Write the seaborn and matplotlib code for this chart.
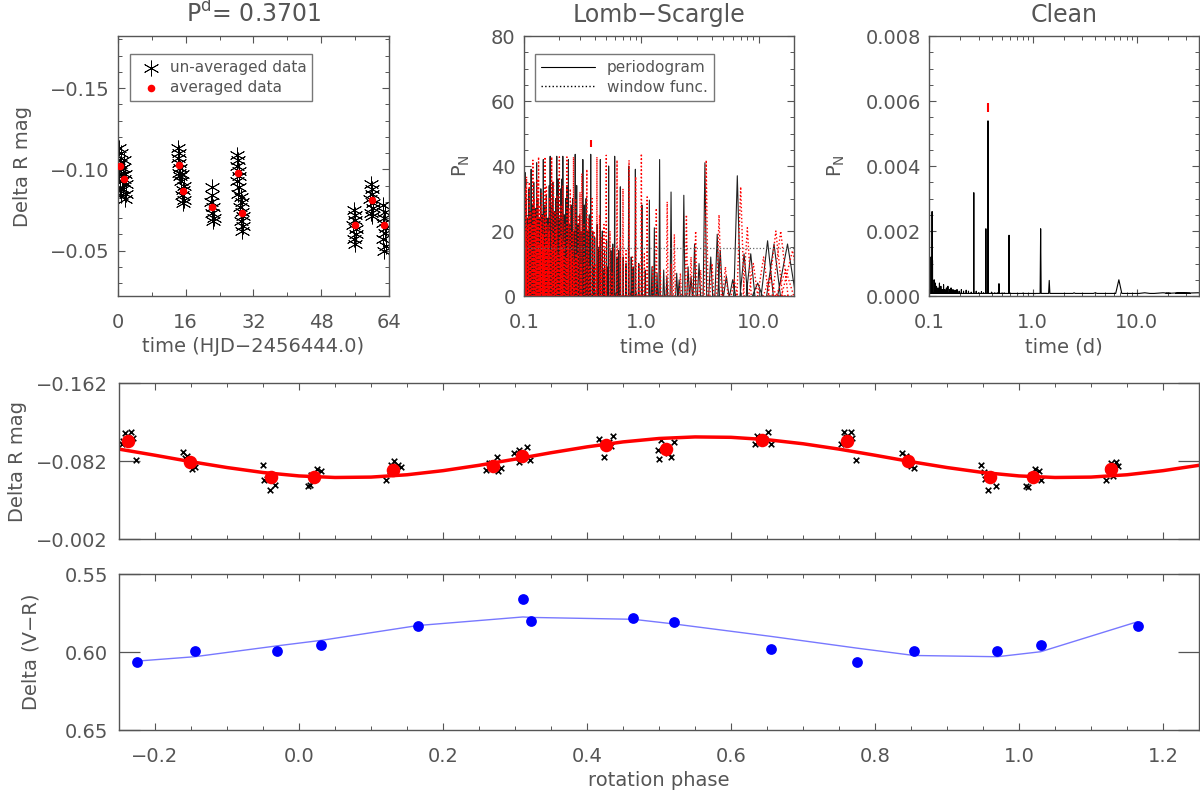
import numpy as np
import pandas as pd
import matplotlib
matplotlib.use("Agg")
import matplotlib.pyplot as plt
import seaborn as sns
from matplotlib.lines import Line2D
from matplotlib.ticker import MultipleLocator

# -----------------------------------------------------------------------------
# Data
# -----------------------------------------------------------------------------
best_period = 0.3701

# panel 1: light curve vs time
raw_time = [0.1, 0.2, 0.3, 0.4, 0.5, 0.6, 0.7, 0.8, 0.9,
            1.2, 1.3, 1.4, 1.5, 1.6, 1.7, 1.8, 1.9,
            14.1, 14.2, 14.3, 14.4, 14.5, 14.6, 14.7,
            15.0, 15.1, 15.2, 15.3, 15.4, 15.5, 15.6,
            22.0, 22.1, 22.2, 22.3, 22.4, 22.5, 22.6,
            28.0, 28.1, 28.2, 28.3, 28.4, 28.5, 28.6, 28.7,
            28.9, 29.0, 29.1, 29.2, 29.3, 29.4, 29.5, 29.6,
            55.6, 55.7, 55.8, 55.9, 56.0, 56.1, 56.2, 56.3,
            59.6, 59.7, 59.8, 59.9, 60.0, 60.1, 60.2, 60.3,
            62.5, 62.6, 62.7, 62.8, 62.9, 63.0, 63.1, 63.2, 63.3]
raw_mag = [-0.106, -0.113, -0.097, -0.103, -0.088, -0.110, -0.100, -0.084, -0.093,
           -0.101, -0.088, -0.106, -0.094, -0.082, -0.097, -0.091, -0.085,
           -0.107, -0.113, -0.098, -0.104, -0.110, -0.096, -0.101,
           -0.093, -0.084, -0.097, -0.087, -0.079, -0.090, -0.081,
           -0.080, -0.089, -0.073, -0.084, -0.068, -0.077, -0.070,
           -0.102, -0.109, -0.093, -0.106, -0.085, -0.099, -0.089, -0.096,
           -0.077, -0.083, -0.068, -0.074, -0.062, -0.080, -0.065, -0.071,
           -0.066, -0.075, -0.057, -0.069, -0.054, -0.072, -0.060, -0.063,
           -0.082, -0.091, -0.073, -0.085, -0.071, -0.088, -0.076, -0.079,
           -0.067, -0.078, -0.057, -0.070, -0.050, -0.074, -0.061, -0.064, -0.053]
avg_time = [0.5, 1.5, 14.4, 15.3, 22.3, 28.3, 29.2, 56.0, 60.0, 62.9]
avg_mag = [-0.102, -0.0943, -0.1029, -0.0867, -0.0769, -0.0980, -0.0732, -0.0654, -0.0810, -0.0654]

# panel 2: Lomb-Scargle periodogram (peaks) and window function
ls_black_period = [0.102, 0.115, 0.128, 0.146, 0.167, 0.190, 0.214, 0.239, 0.273, 0.317,
                   0.370, 0.447, 0.526, 0.592, 0.662, 0.780, 0.889, 1.01, 1.17, 1.29,
                   1.43, 1.79, 2.30, 2.84, 3.48, 4.43, 6.57, 8.55, 11.9, 13.5, 17.6]
ls_black_power = [38, 39, 41, 42, 43, 43, 43, 42, 43.6, 42,
                  43.6, 42, 40, 43, 33.6, 40, 39, 28, 29.5, 21,
                  42, 32, 31, 16, 41, 19, 37, 13, 17, 16, 16]
ls_black_minor_period = [0.104, 0.107, 0.110, 0.113, 0.118, 0.121, 0.124, 0.131, 0.135, 0.139,
                         0.143, 0.150, 0.155, 0.160, 0.164, 0.171, 0.176, 0.181, 0.186, 0.195,
                         0.200, 0.206, 0.210, 0.220, 0.226, 0.232, 0.245, 0.252, 0.259, 0.266,
                         0.281, 0.290, 0.298, 0.306, 0.327, 0.338, 0.350, 0.360, 0.385, 0.400,
                         0.420, 0.435, 0.465, 0.485, 0.505, 0.550, 0.570, 0.620, 0.640, 0.700,
                         0.740, 0.820, 0.850, 0.950, 1.08, 1.23, 1.36, 1.55, 1.65, 2.00,
                         2.10, 2.50, 2.65, 3.10, 3.90, 4.70, 5.30, 6.00, 7.50, 9.80]
ls_black_minor_power = [30, 24, 33, 26, 28, 35, 27, 30, 22, 33,
                        25, 28, 31, 24, 34, 28, 35, 26, 30, 36,
                        24, 33, 36, 25, 30, 34, 22, 28, 30, 20,
                        34, 22, 25, 20, 28, 30, 20, 25, 20, 18,
                        22, 15, 20, 14, 17, 14, 16, 12, 14, 12,
                        10, 12, 9, 10, 8, 9, 7, 8, 6, 7,
                        5, 9, 6, 10, 12, 14, 6, 5, 13, 4]
ls_black_low_period = [0.1005, 0.103, 0.106, 0.109, 0.112, 0.116, 0.119, 0.123, 0.127, 0.130,
                       0.134, 0.137, 0.141, 0.145, 0.148, 0.153, 0.157, 0.162, 0.166, 0.169,
                       0.174, 0.179, 0.184, 0.188, 0.193, 0.198, 0.203, 0.212, 0.218, 0.224,
                       0.236, 0.243, 0.256, 0.263, 0.278, 0.287, 0.302, 0.322, 0.345, 0.365,
                       0.395, 0.43, 0.475, 0.52]
ls_black_low_power = [18, 14, 20, 12, 22, 15, 25, 13, 19, 16,
                      24, 12, 18, 21, 14, 20, 12, 17, 22, 13,
                      18, 15, 20, 11, 16, 22, 13, 18, 12, 15,
                      17, 11, 14, 13, 16, 10, 12, 13, 10, 12,
                      9, 10, 8, 9]
ls_red_period = [0.105, 0.119, 0.133, 0.151, 0.172, 0.200, 0.232, 0.264, 0.311, 0.343,
                 0.418, 0.502, 0.620, 0.697, 0.785, 0.895, 1.00, 1.12, 1.34, 1.66,
                 1.91, 2.42, 2.90, 3.57, 4.59, 7.02, 8.00, 15.4, 19.4]
ls_red_power = [36.7, 41.8, 42.8, 42.8, 42.8, 42.8, 42.8, 42.8, 37.7, 39,
                42.8, 43.3, 41.8, 33, 41.8, 36.7, 43.8, 30.5, 27, 29,
                19, 25, 20, 41.8, 25, 33.6, 21, 20, 14]
ls_red_minor_period = [0.101, 0.103, 0.108, 0.111, 0.114, 0.122, 0.126, 0.129, 0.137, 0.141,
                       0.146, 0.155, 0.160, 0.165, 0.178, 0.184, 0.191, 0.207, 0.214, 0.222,
                       0.240, 0.248, 0.256, 0.275, 0.290, 0.300, 0.325, 0.355, 0.380, 0.395,
                       0.440, 0.460, 0.480, 0.540, 0.580, 0.660, 0.740, 0.840, 0.950, 1.06,
                       1.25, 1.45, 1.80, 2.15, 2.65, 3.20, 4.00, 5.20, 6.20, 9.00,
                       11.0, 12.5, 14.0, 17.0]
ls_red_minor_power = [28, 33, 22, 35, 26, 30, 24, 36, 28, 32,
                      25, 34, 22, 30, 35, 26, 31, 28, 34, 22,
                      27, 33, 20, 30, 25, 32, 22, 24, 30, 20,
                      25, 18, 22, 20, 15, 18, 14, 12, 10, 13,
                      9, 8, 10, 7, 12, 8, 10, 9, 5, 10,
                      12, 6, 20, 8]
ls_red_low_period = [0.1015, 0.1045, 0.1095, 0.1125, 0.117, 0.1205, 0.124, 0.128, 0.132, 0.1355,
                     0.139, 0.144, 0.149, 0.153, 0.158, 0.163, 0.168, 0.175, 0.181, 0.187,
                     0.195, 0.203, 0.210, 0.218, 0.228, 0.236, 0.252, 0.268, 0.283, 0.305,
                     0.33, 0.365, 0.41, 0.45, 0.50, 0.56]
ls_red_low_power = [20, 15, 24, 17, 22, 14, 26, 18, 21, 16,
                    23, 19, 15, 22, 17, 20, 14, 19, 16, 21,
                    13, 18, 15, 17, 12, 16, 14, 11, 13, 10,
                    12, 9, 10, 8, 9, 7]
ls_fap_level = 14.8
ls_mark_range = (45.9, 47.9)

# panel 3: CLEAN spectrum
clean_period = [0.101, 0.104, 0.107, 0.108, 0.112, 0.270, 0.353, 0.370, 0.472,
                0.590, 1.19, 1.44, 6.75]
clean_power = [0.0008, 0.0012, 0.0026, 0.0011, 0.0005, 0.00318, 0.00207, 0.00539, 0.00038,
               0.00187, 0.00207, 0.00048, 0.0005]
clean_noise_period = [0.115, 0.118, 0.122, 0.126, 0.130, 0.134, 0.138, 0.142, 0.147, 0.152,
                      0.158, 0.163, 0.170, 0.178, 0.186, 0.195, 0.205, 0.215, 0.228, 0.240,
                      0.255, 0.285, 0.300, 0.320, 0.335, 0.400, 0.430, 0.455, 0.50, 0.53,
                      0.56, 0.65, 0.72, 0.80, 0.90, 1.05, 2.5, 4.0, 12.0, 18.0, 26.0, 39.0]
clean_noise_power = [0.0004, 0.0003, 0.00025, 0.0004, 0.0003, 0.0002, 0.00035, 0.0002, 0.00025, 0.0003,
                     0.0002, 0.00025, 0.0002, 0.00018, 0.0002, 0.00015, 0.0002, 0.00015, 0.00018, 0.00015,
                     0.00012, 0.00015, 0.0001, 0.00014, 0.0001, 0.00012, 0.0001, 0.0001, 0.00009, 0.0001,
                     0.00008, 0.00008, 0.00007, 0.00009, 0.00007, 0.00007, 0.0001, 0.0001, 0.0001,
                     0.0001, 0.0001, 0.0001]
clean_floor = 0.00008
clean_mark_range = (0.00567, 0.00593)

# panel 4: R light curve vs rotation phase
fit_phase = [-0.25, -0.20, -0.15, -0.10, -0.05, 0.00, 0.05, 0.10, 0.15, 0.20, 0.25,
             0.30, 0.35, 0.40, 0.45, 0.50, 0.55, 0.60, 0.65, 0.70, 0.75, 0.80,
             0.85, 0.90, 0.95, 1.00, 1.05, 1.10, 1.15, 1.20, 1.25]
fit_mag = [-0.0942, -0.0879, -0.0813, -0.0753, -0.0702, -0.0667, -0.0651, -0.0655, -0.0679,
           -0.0721, -0.0776, -0.0839, -0.0905, -0.0965, -0.1016, -0.1051, -0.1067, -0.1063,
           -0.1039, -0.0997, -0.0942, -0.0879, -0.0813, -0.0753, -0.0702, -0.0667, -0.0651,
           -0.0655, -0.0679, -0.0721, -0.0776]
ph_avg_phase = [-0.237, -0.152, -0.039, 0.021, 0.130, 0.269, 0.310, 0.427, 0.510,
                0.643, 0.761, 0.846, 0.959, 1.019, 1.128]
ph_avg_mag = [-0.1022, -0.0810, -0.0656, -0.0656, -0.0731, -0.0772, -0.0875, -0.0988, -0.0947,
              -0.1032, -0.1029, -0.0817, -0.0656, -0.0656, -0.0738]
ph_raw_phase = [-0.246, -0.242, -0.233, -0.231, -0.226, -0.244,
                -0.161, -0.156, -0.152, -0.145, -0.149, -0.158,
                -0.050, -0.048, -0.040, -0.033, -0.036, -0.044,
                0.012, 0.015, 0.025, 0.030, 0.020, 0.017,
                0.121, 0.126, 0.132, 0.138, 0.142, 0.128,
                0.260, 0.264, 0.275, 0.276, 0.280, 0.266,
                0.299, 0.305, 0.316, 0.305, 0.321, 0.312,
                0.417, 0.423, 0.436, 0.433, 0.421, 0.430,
                0.498, 0.500, 0.517, 0.521, 0.503, 0.513,
                0.636, 0.652, 0.633, 0.656, 0.641, 0.647,
                0.757, 0.766, 0.753, 0.773, 0.768, 0.760,
                0.838, 0.843, 0.850, 0.854, 0.845, 0.848,
                0.947, 0.951, 0.957, 0.968, 0.964, 0.953,
                1.009, 1.013, 1.022, 1.028, 1.030, 1.016,
                1.121, 1.128, 1.134, 1.138, 1.131, 1.124]
ph_raw_mag = [-0.0995, -0.1110, -0.1118, -0.1055, -0.0830, -0.1030,
              -0.0909, -0.0875, -0.0830, -0.0757, -0.0733, -0.0850,
              -0.0782, -0.0628, -0.0526, -0.0570, -0.0679, -0.0640,
              -0.0560, -0.0577, -0.0741, -0.0714, -0.0628, -0.0680,
              -0.0628, -0.0714, -0.0816, -0.0782, -0.0758, -0.0780,
              -0.0731, -0.0799, -0.0861, -0.0714, -0.0748, -0.0795,
              -0.0902, -0.0929, -0.0963, -0.0806, -0.0834, -0.0880,
              -0.1045, -0.0861, -0.1073, -0.0970, -0.1000, -0.1010,
              -0.0936, -0.0840, -0.0861, -0.1011, -0.1039, -0.0902,
              -0.1080, -0.1114, -0.0998, -0.0998, -0.1039, -0.1050,
              -0.1114, -0.1114, -0.0998, -0.0834, -0.1056, -0.1070,
              -0.0902, -0.0875, -0.0765, -0.0748, -0.0834, -0.0800,
              -0.0782, -0.0703, -0.0519, -0.0567, -0.0679, -0.0640,
              -0.0567, -0.0553, -0.0738, -0.0714, -0.0621, -0.0680,
              -0.0628, -0.0799, -0.0806, -0.0765, -0.0662, -0.0740]

# panel 5: V-R colour vs rotation phase
vr_phase = [-0.225, -0.145, -0.030, 0.031, 0.165, 0.311, 0.322, 0.464, 0.521,
            0.656, 0.775, 0.854, 0.970, 1.030, 1.165]
vr_color = [0.6062, 0.5991, 0.5991, 0.5953, 0.5833, 0.5660, 0.5801, 0.5780, 0.5810,
            0.5983, 0.6062, 0.5991, 0.5991, 0.5953, 0.5831]
vr_smooth = [0.6058, 0.6030, 0.5960, 0.5925, 0.5830, 0.5775, 0.5778, 0.5790, 0.5820,
             0.5900, 0.5975, 0.6022, 0.6030, 0.5998, 0.5805]

# -----------------------------------------------------------------------------
# Style
# -----------------------------------------------------------------------------
sns.set_theme(style="ticks")
grey = "#555555"
plt.rcParams.update({
    "font.family": ["DejaVu Sans"],
    "font.size": 14,
    "text.color": grey,
    "axes.labelcolor": grey,
    "axes.edgecolor": grey,
    "axes.linewidth": 1.0,
    "xtick.color": grey,
    "ytick.color": grey,
    "xtick.direction": "in",
    "ytick.direction": "in",
    "xtick.top": True,
    "ytick.right": True,
    "xtick.labelsize": 14,
    "ytick.labelsize": 14,
    "axes.labelsize": 14,
})


def spikes(periods, powers, floor=0.0):
    """Turn a list of peaks into a thin spike polyline (width ~ frequency resolution)."""
    p = np.asarray(periods, float)
    h = np.asarray(powers, float)
    order = np.argsort(p)
    xs, ys = [], []
    for pp, hh in zip(p[order], h[order]):
        hw = pp * pp / 100.0
        xs += [pp - hw, pp, pp + hw]
        ys += [floor, hh, floor]
    return pd.DataFrame({"period": xs, "power": ys})


def minus(v, fmt):
    return format(v, fmt).replace("-", "\u2212")


fig = plt.figure(figsize=(12, 7.93), dpi=100)
ax1 = fig.add_axes([0.0983, 0.6267, 0.2258, 0.3279])
ax2 = fig.add_axes([0.4367, 0.6267, 0.2250, 0.3279])
ax3 = fig.add_axes([0.7742, 0.6267, 0.2250, 0.3279])
ax4 = fig.add_axes([0.0992, 0.3203, 0.9000, 0.1967])
ax5 = fig.add_axes([0.0992, 0.0794, 0.9000, 0.1967])

for ax in (ax1, ax2, ax3):
    ax.tick_params(which="major", length=5, width=0.8)
    ax.tick_params(which="minor", length=3, width=0.7)
    ax.tick_params(axis="x", pad=12)
    ax.tick_params(axis="y", pad=6)

# --- panel 1 -----------------------------------------------------------------
df_raw = pd.DataFrame({"t": raw_time, "mag": raw_mag})
df_avg = pd.DataFrame({"t": avg_time, "mag": avg_mag})
sns.scatterplot(data=df_raw, x="t", y="mag", marker=(6, 2, 0), s=120, color="black",
                linewidth=0.6, ax=ax1, label="un-averaged data")
sns.scatterplot(data=df_avg, x="t", y="mag", marker="o", s=30, color="red",
                edgecolor="red", linewidth=0, ax=ax1, label="averaged data", zorder=3)
ax1.set_xlim(0, 64)
ax1.set_ylim(-0.022, -0.182)
ax1.set_xticks([0, 16, 32, 48, 64])
ax1.xaxis.set_minor_locator(MultipleLocator(8))
ax1.set_yticks([-0.15, -0.10, -0.05], labels=[minus(v, ".2f") for v in [-0.15, -0.10, -0.05]])
ax1.yaxis.set_minor_locator(MultipleLocator(0.01))
ax1.set_xlabel("time (HJD\u22122456444.0)", labelpad=4)
ax1.set_ylabel("Delta R mag")
ax1.yaxis.set_label_coords(-0.317, 0.5)
ax1.set_title("P$^{\\rm d}$= 0.3701", fontsize=17, pad=10)
leg = ax1.legend(loc="upper left", bbox_to_anchor=(0.044, 0.931), borderaxespad=0,
                 fontsize=11, frameon=True, fancybox=False, edgecolor=grey,
                 handletextpad=0.2, borderpad=0.4, labelspacing=0.3)
leg.get_frame().set_linewidth(1.0)

# --- panel 2 -----------------------------------------------------------------
df_ls = spikes(ls_black_period + ls_black_minor_period + ls_black_low_period,
               ls_black_power + ls_black_minor_power + ls_black_low_power)
df_win = spikes(ls_red_period + ls_red_minor_period + ls_red_low_period,
                ls_red_power + ls_red_minor_power + ls_red_low_power)
ax2.set_xscale("log")
sns.lineplot(data=df_ls, x="period", y="power", sort=False, estimator=None,
             color="#222222", linewidth=0.8, ax=ax2)
sns.lineplot(data=df_win, x="period", y="power", sort=False, estimator=None,
             color="red", linewidth=1.0, linestyle=":", ax=ax2)
ax2.axhline(ls_fap_level, color="#666666", linestyle=":", linewidth=0.9)
ax2.vlines(best_period, *ls_mark_range, color="red", linewidth=1.5)
ax2.set_xlim(0.1, 20)
ax2.set_ylim(0, 80)
ax2.set_xticks([0.1, 1, 10], labels=["0.1", "1.0", "10.0"])
ax2.set_yticks([0, 20, 40, 60, 80])
ax2.yaxis.set_minor_locator(MultipleLocator(5))
ax2.set_xlabel("time (d)", labelpad=4)
ax2.set_ylabel("P$_{\\rm N}$")
ax2.yaxis.set_label_coords(-0.193, 0.5)
ax2.set_title("Lomb\u2212Scargle", fontsize=17, pad=10)
ls_handles = [Line2D([], [], color="black", linewidth=0.8),
              Line2D([], [], color="black", linewidth=1.0, linestyle=":")]
leg2 = ax2.legend(ls_handles, ["periodogram", "window func."], loc="upper left",
                  bbox_to_anchor=(0.041, 0.931), borderaxespad=0, fontsize=11,
                  frameon=True, fancybox=False, edgecolor=grey, handlelength=3.5,
                  borderpad=0.4, labelspacing=0.3)
leg2.get_frame().set_linewidth(1.0)

# --- panel 3 -----------------------------------------------------------------
df_clean = spikes(clean_period + clean_noise_period, clean_power + clean_noise_power,
                  floor=clean_floor)
ax3.set_xscale("log")
sns.lineplot(data=df_clean, x="period", y="power", sort=False, estimator=None,
             color="black", linewidth=0.8, ax=ax3)
ax3.vlines(best_period, *clean_mark_range, color="red", linewidth=1.5)
ax3.set_xlim(0.1, 40)
ax3.set_ylim(0, 0.008)
ax3.set_xticks([0.1, 1, 10], labels=["0.1", "1.0", "10.0"])
ax3.set_yticks([0, 0.002, 0.004, 0.006, 0.008],
               labels=["0.000", "0.002", "0.004", "0.006", "0.008"])
ax3.yaxis.set_minor_locator(MultipleLocator(0.0005))
ax3.set_xlabel("time (d)", labelpad=4)
ax3.set_ylabel("P$_{\\rm N}$")
ax3.yaxis.set_label_coords(-0.304, 0.5)
ax3.set_title("Clean", fontsize=17, pad=10)

# --- panel 4 -----------------------------------------------------------------
df_fit = pd.DataFrame({"phase": fit_phase, "mag": fit_mag})
df_praw = pd.DataFrame({"phase": ph_raw_phase, "mag": ph_raw_mag})
df_pavg = pd.DataFrame({"phase": ph_avg_phase, "mag": ph_avg_mag})
sns.scatterplot(data=df_praw, x="phase", y="mag", marker="x", s=16, color="black",
                linewidth=1.2, ax=ax4)
sns.lineplot(data=df_fit, x="phase", y="mag", sort=False, estimator=None,
             color="red", linewidth=2.5, ax=ax4)
sns.scatterplot(data=df_pavg, x="phase", y="mag", marker="o", s=95, color="red",
                edgecolor="red", linewidth=0, ax=ax4, zorder=4)
ax4.set_xlim(-0.25, 1.25)
ax4.set_ylim(-0.002, -0.162)
ax4.set_yticks([-0.162, -0.082, -0.002],
               labels=[minus(v, ".3f") for v in [-0.162, -0.082, -0.002]])
ax4.set_ylabel("Delta R mag")
ax4.yaxis.set_label_coords(-0.085, 0.5)
ax4.set_xlabel("")
ax4.tick_params(axis="x", labelbottom=False)

# --- panel 5 -----------------------------------------------------------------
df_vr = pd.DataFrame({"phase": vr_phase, "vr": vr_color, "smooth": vr_smooth})
sns.lineplot(data=df_vr, x="phase", y="smooth", sort=False, estimator=None,
             color="#7878ff", linewidth=1.0, ax=ax5)
sns.scatterplot(data=df_vr, x="phase", y="vr", marker="o", s=60, color="blue",
                edgecolor="blue", linewidth=0, ax=ax5, zorder=4)
ax5.set_xlim(-0.25, 1.25)
ax5.set_ylim(0.65, 0.55)
ax5.set_yticks([0.55, 0.60, 0.65], labels=["0.55", "0.60", "0.65"])
ax5.set_xticks([-0.2, 0.0, 0.2, 0.4, 0.6, 0.8, 1.0, 1.2],
               labels=[minus(v, ".1f") for v in [-0.2, 0.0, 0.2, 0.4, 0.6, 0.8, 1.0, 1.2]])
ax5.set_xlabel("rotation phase", labelpad=4)
ax5.set_ylabel("Delta (V\u2212R)")
ax5.yaxis.set_label_coords(-0.073, 0.5)

for ax in (ax4, ax5):
    ax.xaxis.set_minor_locator(MultipleLocator(0.05))
    ax.tick_params(axis="x", which="major", length=5, width=0.8, pad=12)
    ax.tick_params(axis="x", which="minor", length=3, width=0.7)
    ax.tick_params(axis="y", which="major", length=15, width=0.9, pad=8)
    ax.tick_params(axis="y", which="minor", length=0)

fig.savefig("out.png", dpi=100)
